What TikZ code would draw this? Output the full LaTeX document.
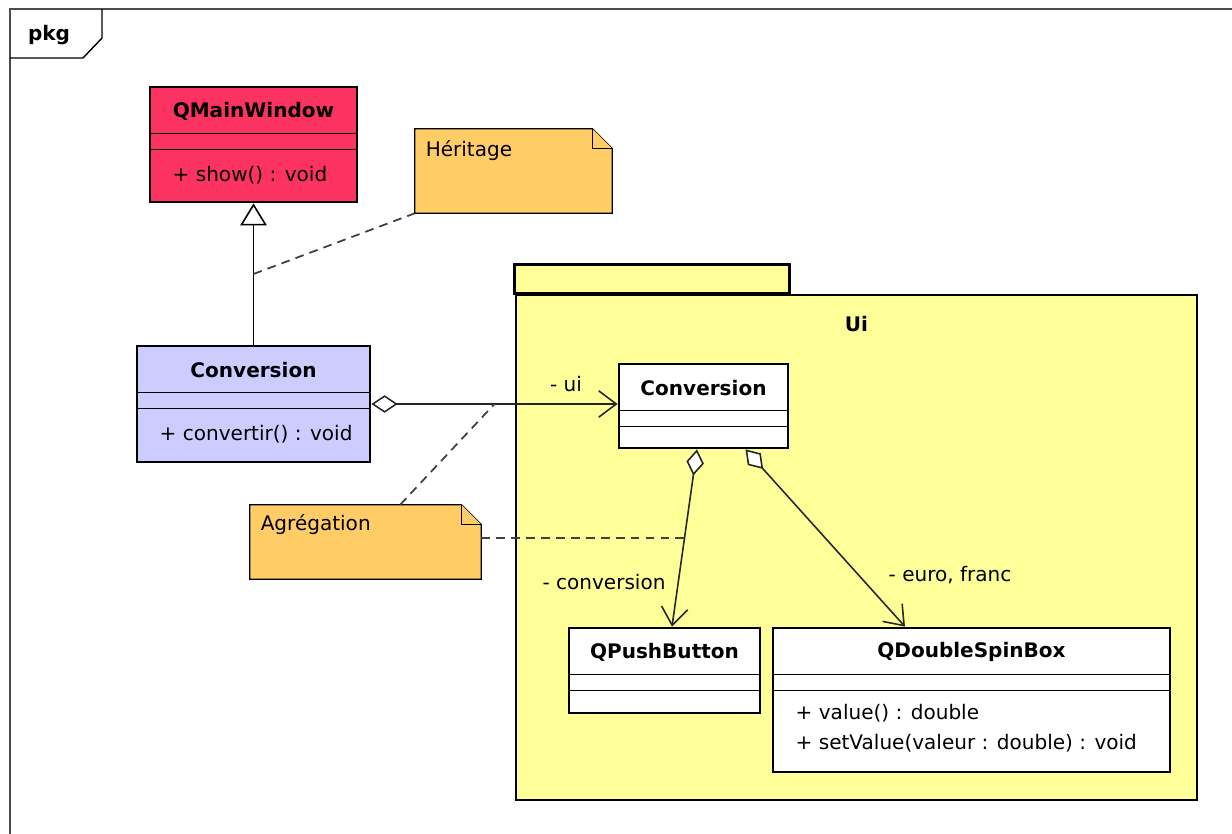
\documentclass[tikz,border=0pt]{standalone}
\usepackage{fontspec}
\setmainfont{DejaVu Sans}
\usepackage{tikz}
\usetikzlibrary{calc,arrows.meta}

\definecolor{windowred}{RGB}{252,50,97}
\definecolor{convblue}{RGB}{204,204,255}
\definecolor{noteorange}{RGB}{255,204,102}
\definecolor{pkgyellow}{RGB}{255,255,153}

% dog-eared note drawn round an empty node
\newcommand{\umlnote}[1]{%
  \filldraw[notebox] (#1.north west) -- ($(#1.north east)+(-20,0)$)
    -- ($(#1.north east)+(0,20)$) -- (#1.south east) -- (#1.south west) -- cycle;
  \draw[notebox] ($(#1.north east)+(-20,0)$) |- ($(#1.north east)+(0,20)$);
}

\begin{document}
\begin{tikzpicture}[
  x=0.02cm, y=-0.02cm,
  font=\fontsize{11.4pt}{13.7pt}\selectfont,
  umlclass/.style = {draw, line width=1.6pt, inner sep=0pt},
  clsname/.style = {font=\fontsize{11.4pt}{13.7pt}\selectfont\bfseries, inner sep=1pt},
  member/.style = {anchor=west, inner sep=1pt},
  sep/.style = {line width=0.7pt},
  notebox/.style = {draw, fill=noteorange, line width=0.7pt},
  noteshape/.style = {inner sep=0pt},
  notelink/.style = {draw=black!75, line width=1pt, dash pattern=on 5pt off 3.5pt},
  inherit/.style = {line width=0.9pt, -{Triangle[fill=white, length=12.5pt, width=15pt]}},
  aggr/.style = {draw=black!85, line width=0.9pt,
    {Diamond[fill=white, length=15pt, width=10pt]}-{Straight Barb[length=10pt, width=15pt]}},
  rolename/.style = {inner sep=1pt}
]
  \useasboundingbox (0,0) rectangle (1232,834);

  % frame
  \draw[line width=1.3pt, black!70] (10,9) rectangle (1250,850);
  \draw[line width=0.8pt] (10,58) -- (83,58) -- (102,38) -- (102,9);
  \node[clsname] (pkg) at (49,35) {pkg};

  % package Ui
  \node[umlclass, fill=pkgyellow, minimum width=13.62cm, minimum height=10.1cm] (uipkg) at (856.5,547.5) {};
  \filldraw[fill=pkgyellow, line width=1.6pt] (uipkg.north west) rectangle ($(uipkg.north west)+(275,-29)$);
  \node[clsname] (uiname) at ($(uipkg.north)+(0,30)$) {Ui};

  % notes
  \node[noteshape, minimum width=3.94cm, minimum height=1.68cm] (heritage) at (513.5,171) {};
  \umlnote{heritage}
  \node[member] (heritagetext) at ($(heritage.north west)+(9,22)$) {Héritage};

  \node[noteshape, minimum width=4.62cm, minimum height=1.48cm] (agregation) at (365.5,542) {};
  \umlnote{agregation}
  \node[member] (agregationtext) at ($(agregation.north west)+(9,20)$) {Agrégation};

  % classes
  \node[umlclass, fill=windowred, minimum width=4.14cm, minimum height=2.3cm] (qmw) at (253.5,144.5) {};
  \node[clsname] (qmwname) at ($(qmw.north)+(0,25.5)$) {QMainWindow};
  \node[member] (qmwshow) at ($(qmw.north west)+(22,90)$) {+ show() : void};

  \node[umlclass, fill=convblue, minimum width=4.66cm, minimum height=2.32cm] (conv) at (253.5,404) {};
  \node[clsname] (convname) at ($(conv.north)+(0,25.5)$) {Conversion};
  \node[member] (convconvertir) at ($(conv.north west)+(22,90)$) {+ convertir() : void};

  \node[umlclass, fill=white, minimum width=3.38cm, minimum height=1.68cm] (uiconv) at (703.5,406) {};
  \node[clsname] (uiconvname) at ($(uiconv.north)+(0,25.5)$) {Conversion};

  \node[umlclass, fill=white, minimum width=3.82cm, minimum height=1.7cm] (qpb) at (664.5,670.5) {};
  \node[clsname] (qpbname) at ($(qpb.north)+(0,25.5)$) {QPushButton};

  \node[umlclass, fill=white, minimum width=7.94cm, minimum height=2.88cm] (qdsb) at (971.5,700) {};
  \node[clsname] (qdsbname) at ($(qdsb.north)+(0,25.5)$) {QDoubleSpinBox};
  \node[member] (qdsbvalue) at ($(qdsb.north west)+(22,87)$) {+ value() : double};
  \node[member] (qdsbsetvalue) at ($(qdsb.north west)+(22,117)$) {+ setValue(valeur : double) : void};

  \foreach \c in {qmw,conv,uiconv,qpb,qdsb}{
    \draw[sep] ($(\c.north west)+(0,48)$) -- ($(\c.north east)+(0,48)$);
    \draw[sep] ($(\c.north west)+(0,64)$) -- ($(\c.north east)+(0,64)$);
  }

  % relations
  \draw[inherit] (conv.north) -- (qmw.south);
  \draw[aggr] (conv.east) -- (conv.east -| uiconv.west);
  \draw[aggr] ($(uiconv.south)+(-6.5,0)$) -- ($(qpb.north)+(7.5,0)$);
  \draw[aggr] ($(uiconv.south)+(42,0)$) -- ($(qdsb.north)+(-66.5,0)$);

  \node[rolename] (uirole) at (566,384) {- ui};
  \node[rolename] (convrole) at (604,582) {- conversion};
  \node[rolename] (eurorole) at (950,575) {- euro, franc};

  % note links
  \coordinate (inhmid) at ($(conv.north)!0.5!(qmw.south)$);
  \coordinate (uimid) at ($(conv.east)!0.5!(conv.east -| uiconv.west)$);
  \coordinate (pbmid) at ($($(uiconv.south)+(-6.5,0)$)!0.5!($(qpb.north)+(7.5,0)$)$);
  \draw[notelink] (inhmid) -- (heritage.south west);
  \draw[notelink] ($(agregation.north west)!0.65!(agregation.north east)$) -- (uimid);
  \draw[notelink] (agregation.east |- pbmid) -- (pbmid);
\end{tikzpicture}
\end{document}
